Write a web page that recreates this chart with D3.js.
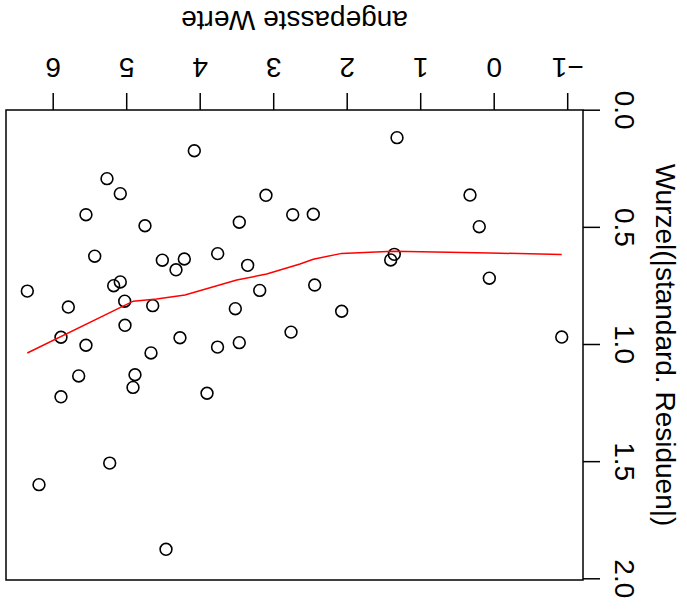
<!DOCTYPE html>
<html>
<head>
<meta charset="utf-8">
<script src="https://cdn.jsdelivr.net/npm/d3@7/dist/d3.min.js"></script>
<style>
  html, body { margin: 0; padding: 0; background: #fff; }
  svg { display: block; }
  text { font-family: "Liberation Sans", Arial, Helvetica, sans-serif; fill: #000; }
</style>
</head>
<body>
<script>
// Scale-location diagnostic: fitted values vs sqrt(|standardised residuals|)
const fittedValues = [
  4.087, 5.275, 5.094, 3.112, 5.561, 2.748, 4.758, 3.475, 5.442, 4.522,
  4.223, 4.336, 3.769, 3.361, 6.359, 5.094, 5.184, 3.197, 5.801, 5.034,
  4.653, 3.529, 5.030, 2.771, 5.901, 4.282, 3.475, 5.561, 3.771, 4.676,
  5.660, 4.894, 4.921, 5.901, 3.914, 5.238, 6.200, 4.472, 1.329, 0.336,
  0.210, 2.468, 1.366, 1.415, 0.073, 2.449, 2.082, -0.912
];
const sqrtStdResiduals = [
  0.171, 0.290, 0.354, 0.361, 0.444, 0.444, 0.491, 0.476, 0.621, 0.638,
  0.633, 0.679, 0.610, 0.660, 0.770, 0.731, 0.747, 0.767, 0.838, 0.813,
  0.832, 0.845, 0.916, 0.945, 0.967, 0.969, 0.990, 1.001, 1.009, 1.034,
  1.132, 1.127, 1.181, 1.221, 1.206, 1.504, 1.596, 1.872, 0.115, 0.360,
  0.495, 0.442, 0.613, 0.637, 0.715, 0.744, 0.856, 0.966
];

// lowess smoother through the scatter
const smoothFitted = [6.359, 4.917, 4.599, 4.214, 3.510, 3.102, 2.649, 2.468, 2.082, 1.380, 0.064, -0.912];
const smoothValues = [1.034, 0.813, 0.804, 0.787, 0.723, 0.697, 0.654, 0.634, 0.609, 0.600, 0.607, 0.614];

const xTickValues = [-1, 0, 1, 2, 3, 4, 5, 6];
const yTickValues = [0, 0.5, 1, 1.5, 2];
const yTickLabels = ["0.0", "0.5", "1.0", "1.5", "2.0"];

const xTitle = "angepasste Werte";
const yTitle = "Wurzel(|standard. Residuen|)";

const W = 687, H = 612;
const plot = { left: 104, right: 681, top: 32, bottom: 502 };
const fontSize = 28;
const tickLen = 17;

const svg = d3.select("body").append("svg")
  .attr("width", W).attr("height", H);

// the whole figure is drawn turned half a revolution
const g = svg.append("g")
  .attr("transform", `rotate(180 ${W / 2} ${H / 2})`);

const x = d3.scaleLinear().domain([-1.2014, 6.649]).range([plot.left, plot.right]);
const y = d3.scaleLinear().domain([0, 2]).range([501.3, 32.7]);

// x axis (ticks + labels)
const xAxis = g.append("g")
  .attr("transform", `translate(0,${plot.bottom})`)
  .call(d3.axisBottom(x).tickValues(xTickValues).tickSize(tickLen).tickSizeOuter(0));
xAxis.select(".domain").remove();
xAxis.selectAll(".tick line").attr("stroke", "#000").attr("stroke-width", 1.5);
xAxis.selectAll(".tick text")
  .attr("y", 42).attr("dy", "0.35em")
  .style("font-size", fontSize + "px")
  .style("font-family", "'Liberation Sans', Arial, sans-serif");

// y axis (ticks + labels parallel to the axis)
const yAxis = g.append("g")
  .attr("transform", `translate(${plot.left},0)`)
  .call(d3.axisLeft(y).tickValues(yTickValues).tickSize(tickLen).tickSizeOuter(0)
    .tickFormat((d, i) => yTickLabels[i]));
yAxis.select(".domain").remove();
yAxis.selectAll(".tick line").attr("stroke", "#000").attr("stroke-width", 1.5);
yAxis.selectAll(".tick text")
  .attr("x", null)
  .attr("text-anchor", "middle")
  .attr("transform", "translate(-42,0) rotate(-90)")
  .attr("dy", "0.35em")
  .style("font-size", fontSize + "px")
  .style("font-family", "'Liberation Sans', Arial, sans-serif");

// plot frame
g.append("rect")
  .attr("x", plot.left).attr("y", plot.top)
  .attr("width", plot.right - plot.left).attr("height", plot.bottom - plot.top)
  .attr("fill", "none").attr("stroke", "#000").attr("stroke-width", 1.5);

// axis titles
g.append("text")
  .attr("x", (plot.left + plot.right) / 2).attr("y", 591)
  .attr("dy", "0.35em").attr("text-anchor", "middle")
  .style("font-size", fontSize + "px")
  .text(xTitle);

g.append("text")
  .attr("transform", `translate(21,${(plot.top + plot.bottom) / 2}) rotate(-90)`)
  .attr("dy", "0.35em").attr("text-anchor", "middle")
  .style("font-size", fontSize + "px")
  .text(yTitle);

// points
g.append("g").selectAll("circle")
  .data(fittedValues.map((f, i) => [f, sqrtStdResiduals[i]]))
  .join("circle")
  .attr("cx", d => x(d[0])).attr("cy", d => y(d[1]))
  .attr("r", 5.9)
  .attr("fill", "none").attr("stroke", "#000").attr("stroke-width", 1.6);

// smoother
const line = d3.line().x(d => x(d[0])).y(d => y(d[1]));
g.append("path")
  .datum(smoothFitted.map((f, i) => [f, smoothValues[i]]))
  .attr("d", line)
  .attr("fill", "none").attr("stroke", "#ff0000").attr("stroke-width", 1.5);
</script>
</body>
</html>
